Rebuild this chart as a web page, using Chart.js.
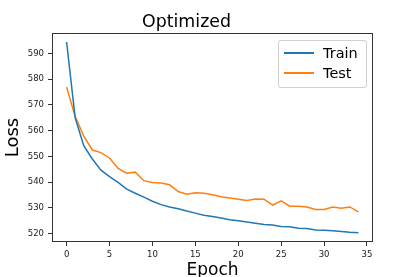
<!DOCTYPE html>
<html lang="en">
<head>
<meta charset="UTF-8">
<script src="https://cdn.jsdelivr.net/npm/chart.js"></script>
<title>Optimized</title>
<style>
  body { margin: 0; background: #fff; overflow: hidden; }
  #wrap { position: relative; width: 415px; height: 277px; }
  #legend {
    position: absolute; left: 278px; top: 40px; width: 87px; height: 46px;
    border: 1px solid #d0d0d0; border-radius: 3px; background: rgba(255,255,255,0.8);
    font-family: "DejaVu Sans", sans-serif; font-size: 14.5px; color: #000;
  }
  .row { position: absolute; left: 0; height: 20px; line-height: 20px; }
  .swatch { position: absolute; left: 5px; top: 9px; width: 30px; height: 2px; }
  .lbl { position: absolute; left: 44px; top: 0; white-space: nowrap; }
</style>
</head>
<body>
<div id="wrap">
  <canvas id="chart" width="415" height="277"></canvas>
  <div id="legend"></div>
</div>
<script>
// epoch numbers and loss per epoch
const epochs = [0, 1, 2, 3, 4, 5, 6, 7, 8, 9, 10, 11, 12, 13, 14, 15, 16, 17,
                18, 19, 20, 21, 22, 23, 24, 25, 26, 27, 28, 29, 30, 31, 32, 33, 34];
const trainLoss = [594.4, 565.0, 554.2, 549.0, 544.7, 542.2, 539.9, 537.3, 535.7, 534.2,
                   532.6, 531.3, 530.4, 529.7, 528.8, 528.0, 527.2, 526.7, 526.1, 525.4,
                   525.0, 524.6, 524.1, 523.6, 523.4, 522.8, 522.7, 522.1, 522.0, 521.5,
                   521.4, 521.2, 520.9, 520.6, 520.4];
const testLoss = [576.9, 565.5, 557.9, 552.5, 551.5, 549.4, 545.4, 543.5, 543.9, 540.6,
                  539.9, 539.7, 539.0, 536.4, 535.3, 535.9, 535.7, 535.1, 534.4, 533.9,
                  533.4, 532.9, 533.5, 533.4, 531.1, 532.8, 530.7, 530.7, 530.4, 529.4,
                  529.4, 530.4, 529.9, 530.4, 528.5];
const xTicks = [0, 5, 10, 15, 20, 25, 30, 35];
const yTicks = [520, 530, 540, 550, 560, 570, 580, 590];

const seriesNames = ['Train', 'Test'];
const seriesColors = ['#1f77b4', '#ff7f0e'];

const font = '"DejaVu Sans", sans-serif';

function toPoints(values) {
  return values.map((v, i) => ({ x: epochs[i], y: v }));
}

// box around the plot area, like matplotlib spines
const frame = {
  id: 'frame',
  afterDraw(chart) {
    const a = chart.chartArea;
    const ctx = chart.ctx;
    ctx.save();
    ctx.strokeStyle = '#333';
    ctx.lineWidth = 1;
    ctx.strokeRect(Math.round(a.left) + 0.5, Math.round(a.top) + 0.5,
                   Math.round(a.right - a.left) - 1, Math.round(a.bottom - a.top) - 1);
    ctx.restore();
  }
};

const config = {
  type: 'line',
  data: {
    datasets: [
      { label: seriesNames[0], data: toPoints(trainLoss), borderColor: seriesColors[0],
        borderWidth: 1.5, pointRadius: 0, tension: 0, fill: false },
      { label: seriesNames[1], data: toPoints(testLoss), borderColor: seriesColors[1],
        borderWidth: 1.5, pointRadius: 0, tension: 0, fill: false }
    ]
  },
  options: {
    responsive: false,
    animation: false,
    layout: { padding: { left: 0, right: 42, top: 0, bottom: 0 } },
    plugins: {
      legend: { display: false },
      tooltip: { enabled: false },
      title: {
        display: true,
        text: 'Optimized',
        color: '#000',
        font: { family: font, size: 17.4, weight: 'normal', lineHeight: '21px' },
        padding: { top: 12, bottom: 0 }
      }
    },
    scales: {
      x: {
        type: 'linear',
        min: -1.7,
        max: 35.7,
        afterBuildTicks: s => { s.ticks = xTicks.map(v => ({ value: v })); },
        afterFit: s => { s.height = 35; },
        border: { display: false },
        grid: { drawOnChartArea: false, drawTicks: true, tickLength: 4, tickColor: '#333' },
        ticks: { color: '#222', font: { family: font, size: 8.5 }, padding: 4, maxRotation: 0 },
        title: {
          display: true, text: 'Epoch', color: '#000',
          font: { family: font, size: 17, lineHeight: 1.2 },
          padding: { top: 0, bottom: -4 }
        }
      },
      y: {
        min: 516.8,
        max: 597.9,
        afterBuildTicks: s => { s.ticks = yTicks.map(v => ({ value: v })); },
        afterFit: s => { s.width = 52; },
        border: { display: false },
        grid: { drawOnChartArea: false, drawTicks: true, tickLength: 4, tickColor: '#333' },
        ticks: { color: '#222', font: { family: font, size: 8.5 }, padding: 4 },
        title: {
          display: true, text: 'Loss', color: '#000',
          font: { family: font, size: 18, lineHeight: 1.2 },
          padding: { top: 3, bottom: 0 }
        }
      }
    }
  },
  plugins: [frame]
};

new Chart(document.getElementById('chart'), config);

// legend inside the plot, upper right
const legend = document.getElementById('legend');
seriesNames.forEach((name, i) => {
  const row = document.createElement('div');
  row.className = 'row';
  row.style.top = (2 + i * 20) + 'px';
  row.innerHTML = '<span class="swatch" style="background:' + seriesColors[i] + '"></span>' +
                  '<span class="lbl">' + name + '</span>';
  legend.appendChild(row);
});
</script>
</body>
</html>
